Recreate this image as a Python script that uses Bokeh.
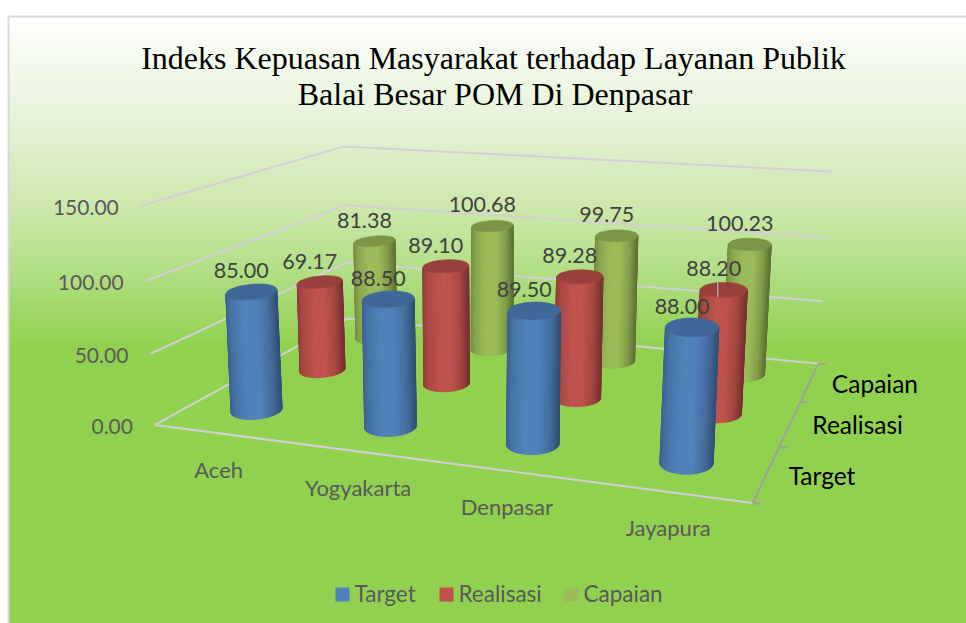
import numpy as np
from bokeh.plotting import figure
from bokeh.core.properties import value
from bokeh.embed import file_html
from bokeh.resources import INLINE

title_lines = ["Indeks Kepuasan Masyarakat terhadap Layanan Publik", "Balai Besar POM Di Denpasar"]
categories = ["Aceh", "Yogyakarta", "Denpasar", "Jayapura"]
series_names = ["Target", "Realisasi", "Capaian"]
target = [85.00, 88.50, 89.50, 88.00]
realisasi = [69.17, 89.10, 89.28, 88.20]
capaian = [81.38, 100.68, 99.75, 100.23]
value_ticks = [0, 50, 100, 150]
series_values = [target, realisasi, capaian]
series_colors = ["#4F81BD", "#C0504D", "#9BBB59"]

W, H = 966, 623

# calibration of the 3D view: (u along categories, v along series, h value) -> page pixel
calib = [
    (0, 0, 0, 155, 425), (0, 0, 50, 150, 353), (0, 0, 100, 145, 280), (0, 0, 150, 140, 205),
    (0, 1, 0, 347, 318), (0, 1, 50, 345, 262), (0, 1, 100, 345, 205), (0, 1, 150, 343, 146),
    (1, 1, 0, 818, 362), (1, 1, 50, 822, 301), (1, 1, 100, 827, 237), (1, 1, 150, 830, 171),
    (1, 0, 0, 752, 503),
]
A, b = [], []
for u, v, h, x, y in calib:
    h = h / 150
    A.append([u, v, h, 1, 0, 0, 0, 0, -x * u, -x * v, -x * h]); b.append(x)
    A.append([0, 0, 0, 0, u, v, h, 1, -y * u, -y * v, -y * h]); b.append(y)
sol = np.linalg.lstsq(np.array(A, float), np.array(b, float), rcond=None)[0]
P = np.append(sol, 1.0).reshape(3, 4)


def proj(u, v, h):
    u, v, h = np.broadcast_arrays(np.asarray(u, float), np.asarray(v, float), np.asarray(h, float) / 150)
    q = np.stack([u, v, h, np.ones_like(u)])
    r = P @ q.reshape(4, -1)
    return (r[0] / r[2]).reshape(u.shape), (r[1] / r[2]).reshape(u.shape)


def shade(col, m):
    c = [int(col[i:i + 2], 16) for i in (1, 3, 5)]
    return "#%02x%02x%02x" % tuple(int(max(0, min(255, k * m))) for k in c)


p = figure(width=W, height=H, x_range=(0, W), y_range=(H, 0), toolbar_location=None,
           output_backend="svg", min_border=0, outline_line_color=None, background_fill_color="white",
           border_fill_color="white")
p.axis.visible = False
p.grid.visible = False

# background gradient
g_y = [17, 60, 120, 200, 270, 345]
g_r = [255, 244, 230, 207, 178, 146]
g_g = [255, 250, 243, 233, 223, 208]
g_b = [255, 236, 217, 176, 133, 80]
ys = np.arange(17, 346, 2)
rr, gg, bb = np.interp(ys, g_y, g_r), np.interp(ys, g_y, g_g), np.interp(ys, g_y, g_b)
p.quad(left=9, right=W, top=ys, bottom=H,
       fill_color=["#%02x%02x%02x" % (int(a), int(c), int(d)) for a, c, d in zip(rr, gg, bb)], line_color=None)
p.line([8, 8], [16, H], line_color="#d9d9d9", line_width=2)
p.line([8, W], [16, 16], line_color="#d9d9d9", line_width=2)

# gridlines on the walls
grid_color = "#d2d0d6"
for t in value_ticks:
    gx, gy = proj([0, 0, 1], [0, 1, 1], [t, t, t])
    p.line(gx, gy, line_color=grid_color, line_width=2)
fx, fy = proj([0, 1], [0, 0], [0, 0])
p.line(fx, fy, line_color=grid_color, line_width=2)

# series depth axis
rx, ry = proj([1, 1], [0, 1], [0, 0])
p.line(rx, ry, line_color="#a0a0a0", line_width=2)
for k in range(4):
    tx, ty = proj([1, 1.013], [k / 3, k / 3], [0, 0])
    p.line(tx, ty, line_color="#a0a0a0", line_width=2)

# cylinders, back row first
U_POS = [0.122, 0.375, 0.625, 0.876]
V_POS = [0.17, 0.51, 0.84]
HALF_W = [25.5, 22.5, 20.5]
HALF_H = [7.5, 6, 5]
TILT = [-0.09, -0.05, -0.02, 0.0]
sh_f = [0, .1, .35, .6, .82, 1]
sh_m = [.76, .88, 1, 1, .85, .62]
ang = np.linspace(0, 2 * np.pi, 97)[:-1]
front = np.linspace(np.pi, 0, 61)
labels_x, labels_y, labels_t = [], [], []
for j in (2, 1, 0):
    col = series_colors[j]
    xs_all, ys_all, cols = [], [], []
    for i, val in enumerate(series_values[j]):
        bcx, bcy = proj(U_POS[i], V_POS[j], 0)
        tcx, tcy = proj(U_POS[i], V_POS[j], val)
        bcx, bcy, tcx, tcy = float(bcx), float(bcy), float(tcx), float(tcy)
        a = HALF_W[j] * (1 + 0.015 * i)
        bt = HALF_H[j] * (1 + 0.08 * i)
        bb_ = bt * 1.2
        bxf = bcx + a * np.cos(front)
        byf = bcy + bb_ * np.sin(front) + TILT[i] * a * np.cos(front)
        txf = tcx + a * np.cos(front)
        tyf = tcy + bt * np.sin(front) + TILT[i] * a * np.cos(front)
        for k in range(len(front) - 1):
            f = 0.5 * (1 + np.cos(0.5 * (front[k] + front[k + 1])))
            shd = shade(col, float(np.interp(f, sh_f, sh_m)))
            xs_all.append([bxf[k], bxf[k + 1], txf[k + 1], txf[k]])
            ys_all.append([byf[k], byf[k + 1], tyf[k + 1], tyf[k]])
            cols.append(shd)
        xs_all.append(list(tcx + a * np.cos(ang)))
        ys_all.append(list(tcy + bt * np.sin(ang) + TILT[i] * a * np.cos(ang)))
        cols.append(shade(col, 0.8))
        labels_x.append(tcx - 10); labels_y.append(tcy - 21); labels_t.append(f"{val:.2f}")
    p.patches(xs_all, ys_all, fill_color=cols, line_color=cols, line_width=0.7)

# leader line of Jayapura / Realisasi
lx, ly = proj(U_POS[3], V_POS[1], realisasi[3])
p.line([float(lx) - 6, float(lx) - 6], [float(ly) - 9, float(ly) + 7], line_color="#a8a8a8", line_width=1.5)

lab_font = value("Lato")
p.text(labels_x, labels_y, text=labels_t, text_font=lab_font, text_font_size="21.5px",
       text_color="#404040", text_align="center", text_baseline="middle")

# value axis labels
vx, vy = proj([0] * 4, [0] * 4, value_ticks)
p.text(vx - 22, vy + 2, text=[f"{t:.2f}" for t in value_ticks], text_font=lab_font, text_font_size="21px",
       text_color="#595959", text_align="right", text_baseline="middle")

# category labels
cx, cy = proj(U_POS, [0] * 4, [0] * 4)
p.text(cx, cy + 36, text=categories, text_font=lab_font, text_font_size="22px",
       text_color="#595959", text_align="center", text_baseline="middle")

# series labels
sx, sy = proj([1] * 3, [1 / 6, 1 / 2, 5 / 6], [0] * 3)
p.text(sx + 22, sy + 1.5, text=series_names, text_font=lab_font, text_font_size="24.5px",
       text_color="#000000", text_align="left", text_baseline="middle")

# title
p.text([493, 494.5], [57, 93], text=title_lines, text_font=value("Liberation Serif"), text_font_size="32px",
       text_color="#000000", text_align="center", text_baseline="middle")

# legend
leg_x = [335, 439, 564]
p.rect([x + 7 for x in leg_x], [594] * 3, width=14, height=14, fill_color=series_colors, line_color=None)
p.text([x + 19 for x in leg_x], [593] * 3, text=series_names, text_font=lab_font, text_font_size="22.5px",
       text_color="#595959", text_align="left", text_baseline="middle")

open("out.html", "w").write(file_html(p, INLINE))
